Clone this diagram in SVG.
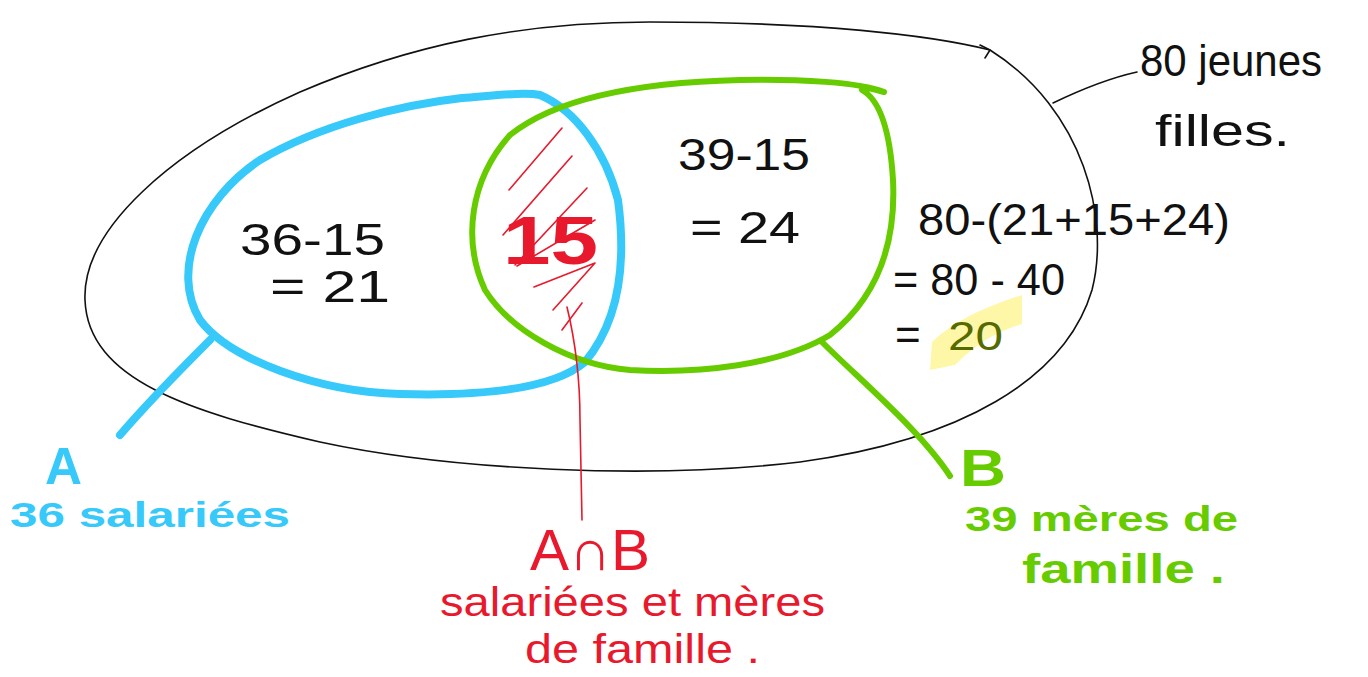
<svg xmlns="http://www.w3.org/2000/svg" width="1368" height="677" viewBox="0 0 1368 677">
<style>
.ink{fill:none;stroke-linecap:round;stroke-linejoin:round}
.k{stroke:#111;stroke-width:1.6}
.bl{stroke:#36C9FA;stroke-width:8}
.gr{stroke:#66CC00;stroke-width:6}
.rd{stroke:#E8192C;stroke-width:1.6}
text{font-family:"Liberation Sans","DejaVu Sans",sans-serif}
.tk{fill:#111;font-size:44px}
.tb{fill:#36C9FA;font-weight:bold}
.tg{fill:#66CC00;font-weight:bold}
.tr{fill:#E8192C}
</style>
<rect width="1368" height="677" fill="#fff"/>
<g id="universe">
<path class="ink k" d="M650,22 C820,22 930,35 990,50 C1085,110 1110,220 1092,290 C1065,380 960,440 800,462 C650,480 450,470 320,442 C190,412 88,380 85,300 C82,230 170,150 300,92 C410,45 520,22 650,22 Z"/>
<path class="ink k" d="M980,45 L990,50 L985,58"/>
</g>
<g id="outside-region">
<path d="M930,370 L932,342 C950,325 975,310 1022,295 L1022,324 C995,332 975,345 955,365 Z" fill="#FFF7A8"/>
<text class="tk" x="918" y="235" font-size="40" textLength="312" lengthAdjust="spacingAndGlyphs">80-(21+15+24)</text>
<text class="tk" x="893" y="295" font-size="40" textLength="172" lengthAdjust="spacingAndGlyphs">= 80 - 40</text>
<text class="tk" x="895" y="350" font-size="40">=</text>
<text x="948" y="350" font-size="40" fill="#556B00" textLength="55" lengthAdjust="spacingAndGlyphs">20</text>
</g>
<g id="set-A">
<path class="ink bl" d="M462,98 C500,95 525,92 540,95 C575,110 605,150 618,200 C626,260 620,320 585,362 C550,392 470,396 400,394 C320,392 230,360 200,320 C170,270 200,200 260,160 C320,125 400,105 462,98"/>
<text class="tk" x="240" y="255" font-size="46" textLength="145" lengthAdjust="spacingAndGlyphs">36-15</text>
<text class="tk" x="270" y="302" font-size="46" textLength="120" lengthAdjust="spacingAndGlyphs">= 21</text>
</g>
<g id="set-B">
<path class="ink gr" d="M884,92 C870,88 860,86 862,90 C880,100 890,130 893,180 C896,240 880,295 830,335 C780,365 700,374 630,370 C570,365 510,330 485,290 C462,240 470,180 510,135 C560,95 650,82 740,80 C800,79 860,82 884,92"/>
<text class="tk" x="678" y="170" font-size="46" textLength="132" lengthAdjust="spacingAndGlyphs">39-15</text>
<text class="tk" x="690" y="243" font-size="46" textLength="110" lengthAdjust="spacingAndGlyphs">= 24</text>
</g>
<g id="intersection">
<path class="ink rd" d="M562,128 L509,190 M572,156 L503,235 M587,188 L515,265 M595,220 L517,266 M595,263 L534,287 M595,263 L553,310 M582,303 L562,330"/>
<text class="tr" x="503" y="264" font-size="68" font-weight="bold" textLength="95" lengthAdjust="spacingAndGlyphs">15</text>
</g>
<g id="label-universe">
<text class="tk" x="1140" y="76" font-size="46" textLength="182" lengthAdjust="spacingAndGlyphs">80 jeunes</text>
<text class="tk" x="1155" y="146" font-size="46" textLength="135" lengthAdjust="spacingAndGlyphs">filles.</text>
</g>
<g id="label-A">
<text class="tb" x="45" y="484" font-size="52" textLength="37" lengthAdjust="spacingAndGlyphs">A</text>
<text class="tb" x="10" y="527" font-size="35" textLength="280" lengthAdjust="spacingAndGlyphs">36 salariées</text>
</g>
<g id="label-AB">
<text class="tr" x="530" y="570" font-size="58" textLength="120" lengthAdjust="spacingAndGlyphs">A∩B</text>
<text class="tr" x="440" y="616" font-size="40" textLength="385" lengthAdjust="spacingAndGlyphs">salariées et mères</text>
<text class="tr" x="525" y="663" font-size="40" textLength="235" lengthAdjust="spacingAndGlyphs">de famille .</text>
</g>
<g id="label-B">
<text class="tg" x="960" y="486" font-size="52" textLength="46" lengthAdjust="spacingAndGlyphs">B</text>
<text class="tg" x="965" y="531" font-size="35" textLength="273" lengthAdjust="spacingAndGlyphs">39 mères de</text>
<text class="tg" x="1022" y="583" font-size="40" textLength="203" lengthAdjust="spacingAndGlyphs">famille .</text>
</g>
<g id="connectors">
<path class="ink k" d="M1053,103 C1080,90 1110,78 1137,72"/>
<path class="ink bl" stroke-width="6" d="M210,340 C180,370 150,400 120,435"/>
<path class="ink gr" d="M822,342 C860,380 920,430 950,476"/>
<path class="ink rd" stroke-width="2.5" d="M567,307 C575,340 580,380 580,420 L582,520"/>
</g>
</svg>
